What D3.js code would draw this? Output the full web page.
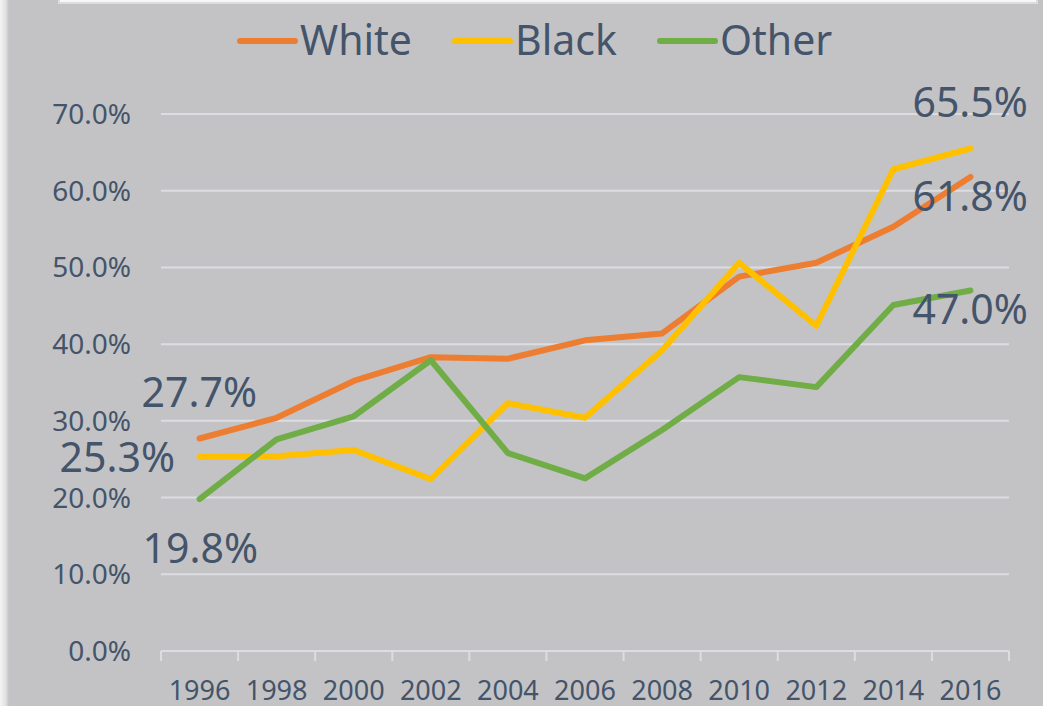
<!DOCTYPE html>
<html>
<head>
<meta charset="utf-8">
<script src="https://cdn.jsdelivr.net/npm/d3@7/dist/d3.min.js"></script>
<style>
  html, body { margin: 0; padding: 0; background: #c3c3c5; }
  svg { display: block; }
  text { font-family: "Noto Sans", "Open Sans", sans-serif; fill: #44546a; }
</style>
</head>
<body>
<script>
const years = ["1996","1998","2000","2002","2004","2006","2008","2010","2012","2014","2016"];
const white = [27.7, 30.4, 35.2, 38.3, 38.1, 40.5, 41.4, 48.8, 50.6, 55.3, 61.8];
const black = [25.3, 25.4, 26.2, 22.4, 32.3, 30.4, 39.2, 50.6, 42.4, 62.8, 65.5];
const other = [19.8, 27.6, 30.6, 37.9, 25.8, 22.5, 28.8, 35.7, 34.4, 45.1, 47.0];
const yTicks = [0, 10, 20, 30, 40, 50, 60, 70];
const seriesNames = ["White", "Black", "Other"];
const seriesColors = ["#ed7d31", "#ffc000", "#70ad47"];

const W = 1043, H = 706;
const svg = d3.select("body").append("svg").attr("width", W).attr("height", H);

// background and frame
svg.append("rect").attr("width", W).attr("height", H).attr("fill", "#c3c3c5");
const defs = svg.append("defs");
const lg = defs.append("linearGradient").attr("id", "leftEdge").attr("x1", 0).attr("x2", 1);
lg.append("stop").attr("offset", 0).attr("stop-color", "#f4f4f5");
lg.append("stop").attr("offset", 0.6).attr("stop-color", "#e2e2e3");
lg.append("stop").attr("offset", 1).attr("stop-color", "#c3c3c5");
svg.append("rect").attr("x", 0).attr("y", 0).attr("width", 9).attr("height", H).attr("fill", "url(#leftEdge)");
svg.append("rect").attr("x", 58).attr("y", -10).attr("width", 980).attr("height", 14)
  .attr("fill", "#dcdcde");
svg.append("rect").attr("x", 60).attr("y", -10).attr("width", 976).attr("height", 12)
  .attr("fill", "#f7f7f7");

const x = d3.scaleBand().domain(years).range([161, 1009]);
const y = d3.scaleLinear().domain([0, 70]).range([651, 114]);
const cx = d => x(d) + x.bandwidth() / 2;

// gridlines
svg.append("g").selectAll("line").data(yTicks.filter(t => t > 0)).join("line")
  .attr("x1", 161).attr("x2", 1009)
  .attr("y1", d => y(d)).attr("y2", d => y(d))
  .attr("stroke", "#dcdde3").attr("stroke-width", 2);

// y labels
svg.append("g").selectAll("text").data(yTicks).join("text")
  .attr("x", 131).attr("y", d => y(d) + 10)
  .attr("text-anchor", "end").attr("font-size", 28)
  .text(d => d.toFixed(1) + "%");

// x axis
const xa = svg.append("g");
xa.append("line").attr("x1", 161).attr("x2", 1009).attr("y1", 651).attr("y2", 651)
  .attr("stroke", "#dcdde3").attr("stroke-width", 2);
const edges = years.map(d => x(d)).concat([x(years[years.length - 1]) + x.bandwidth()]);
xa.selectAll("line.tick").data(edges).join("line").attr("class", "tick")
  .attr("x1", d => d).attr("x2", d => d).attr("y1", 651).attr("y2", 661)
  .attr("stroke", "#dcdde3").attr("stroke-width", 2);
xa.selectAll("text").data(years).join("text")
  .attr("x", d => cx(d)).attr("y", 700)
  .attr("text-anchor", "middle").attr("font-size", 27)
  .text(d => d);

// lines
const data = [white, black, other];
const line = d3.line().x((d, i) => cx(years[i])).y(d => y(d));
svg.append("g").selectAll("path").data(data).join("path")
  .attr("d", d => line(d))
  .attr("fill", "none")
  .attr("stroke", (d, i) => seriesColors[i])
  .attr("stroke-width", 6)
  .attr("stroke-linecap", "round")
  .attr("stroke-linejoin", "round");

// data labels
const labels = [
  { s: 0, i: 0, dx: -58, dy: -32 },
  { s: 1, i: 0, dx: -140, dy: 15 },
  { s: 2, i: 0, dx: -57, dy: 64 },
  { s: 1, i: 10, dx: -58, dy: -32 },
  { s: 0, i: 10, dx: -58, dy: 34 },
  { s: 2, i: 10, dx: -58, dy: 34 }
];
svg.append("g").selectAll("text").data(labels).join("text")
  .attr("x", d => cx(years[d.i]) + d.dx)
  .attr("y", d => y(data[d.s][d.i]) + d.dy)
  .attr("font-size", 41)
  .text(d => data[d.s][d.i].toFixed(1) + "%");

// legend
const legendX = [240, 455, 660];
const lgG = svg.append("g");
seriesNames.forEach((n, i) => {
  lgG.append("line").attr("x1", legendX[i]).attr("x2", legendX[i] + 55)
    .attr("y1", 41).attr("y2", 41)
    .attr("stroke", seriesColors[i]).attr("stroke-width", 6).attr("stroke-linecap", "round");
  lgG.append("text").attr("x", legendX[i] + 60).attr("y", 55)
    .attr("font-size", 41).text(n);
});
</script>
</body>
</html>
